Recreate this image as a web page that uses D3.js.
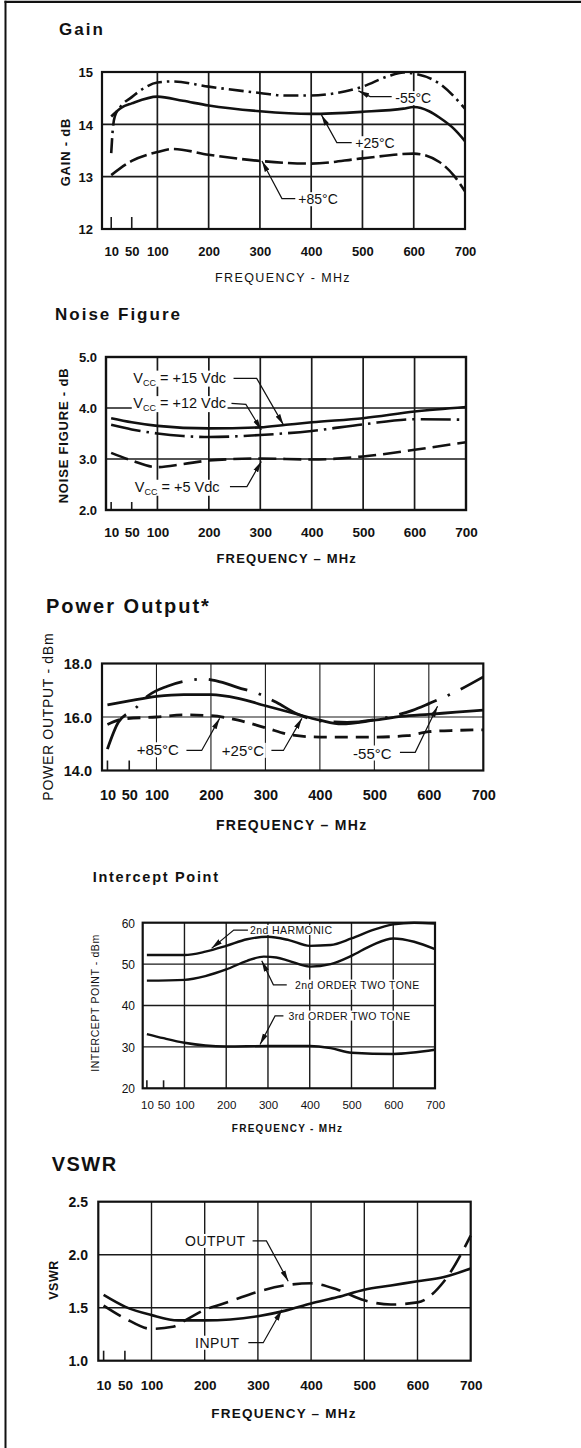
<!DOCTYPE html>
<html><head><meta charset="utf-8">
<script src="https://cdn.jsdelivr.net/npm/d3@7"></script>
<style>
html,body{margin:0;padding:0;background:#fff;}
svg{display:block;}
text{font-family:"Liberation Sans",Arial,Helvetica,sans-serif;fill:#111;}
</style></head><body>
<svg id="chart" width="581" height="1448"></svg>
<script>
// ---------- DATA ----------
const xTickValues = [10, 50, 100, 200, 300, 400, 500, 600, 700];
const xTickLabels = ["10", "50", "100", "200", "300", "400", "500", "600", "700"];
const xGridValues = [100, 200, 300, 400, 500, 600];
const xMinorTicks = [10, 50];

// Gain (dB)
const gainYTicks = [12, 13, 14, 15];
const gainMinus55 = [[10,13.45],[13,13.9],[17,14.15],[30,14.36],[50,14.52],[75,14.7],[100,14.8],[130,14.82],[200,14.72],[300,14.6],[350,14.55],[400,14.55],[450,14.6],[500,14.72],[550,14.92],[580,14.99],[600,14.97],[650,14.78],[700,14.3]];
const gainPlus25 = [[10,14.15],[30,14.32],[50,14.4],[100,14.53],[150,14.45],[200,14.36],[300,14.25],[400,14.2],[500,14.24],[580,14.3],[600,14.33],[630,14.25],[650,14.13],[680,13.9],[700,13.68]];
const gainPlus85 = [[10,13.03],[50,13.3],[100,13.47],[130,13.53],[200,13.42],[300,13.3],[400,13.25],[500,13.35],[600,13.44],[650,13.28],[680,13.0],[700,12.72]];

// Noise figure (dB)
const noiseYTicks = [2, 3, 4, 5];
const noiseVcc15 = [[10,3.8],[50,3.72],[100,3.65],[200,3.6],[300,3.62],[350,3.67],[400,3.72],[500,3.8],[600,3.93],[700,4.02]];
const noiseVcc12 = [[10,3.67],[50,3.58],[100,3.5],[150,3.45],[200,3.43],[300,3.47],[400,3.55],[500,3.68],[600,3.78],[700,3.77]];
const noiseVcc5 = [[10,3.12],[50,2.97],[100,2.84],[150,2.9],[200,2.97],[300,3.01],[400,2.99],[500,3.05],[600,3.18],[700,3.33]];

// Power output (dBm)
const powerYTicks = [14, 16, 18];
const powerPlus25 = [[10,16.45],[50,16.6],[100,16.77],[150,16.84],[200,16.84],[250,16.7],[300,16.42],[350,16.15],[400,15.88],[440,15.74],[500,15.88],[550,16.02],[600,16.1],[650,16.18],[700,16.26]];
const powerMinus55 = [[10,14.8],[30,15.8],[60,16.3],[85,16.8],[120,17.15],[160,17.37],[190,17.42],[210,17.35],[250,17.1],[290,16.85],[320,16.55],[360,16.1],[400,15.85],[450,15.8],[500,15.9],[570,16.25],[600,16.5],[650,16.95],[700,17.5]];
const powerPlus85 = [[10,15.72],[40,15.93],[100,16.0],[150,16.08],[200,16.05],[250,15.88],[300,15.6],[350,15.32],[400,15.25],[500,15.25],[560,15.3],[600,15.45],[650,15.5],[700,15.52]];

// Intercept point (dBm)
const interceptYTicks = [20, 30, 40, 50, 60];
const ip2ndHarmonic = [[10,52.2],[100,52.2],[150,53],[200,54.4],[250,56],[300,56.6],[350,55.8],[400,54.4],[450,54.6],[500,56.2],[550,58.2],[600,59.6],[650,60],[700,59.8]];
const ip2ndOrderTwoTone = [[10,46],[100,46.2],[150,47.1],[200,48.7],[250,50.8],[290,51.8],[320,51.6],[350,50.8],[400,49.4],[450,50],[500,52],[550,54.6],[600,56.2],[650,55.4],[700,53.6]];
const ip3rdOrderTwoTone = [[10,33.1],[50,32.1],[100,31],[200,30.1],[300,30.2],[400,30.2],[450,29.7],[500,28.6],[600,28.3],[700,29.3]];

// VSWR
const vswrYTicks = [1.0, 1.5, 2.0, 2.5];
const vswrInput = [[10,1.62],[50,1.51],[100,1.43],[150,1.38],[200,1.38],[300,1.42],[350,1.47],[400,1.54],[450,1.6],[500,1.67],[550,1.71],[600,1.75],[650,1.79],[700,1.87]];
const vswrOutput = [[10,1.52],[50,1.4],[100,1.3],[140,1.32],[170,1.4],[200,1.48],[230,1.53],[270,1.6],[300,1.65],[350,1.71],[400,1.73],[450,1.67],[500,1.57],[550,1.53],[600,1.55],[650,1.75],[700,2.18]];

// ---------- DRAWING ----------
const svg = d3.select("#chart");
const defs = svg.append("defs");
defs.append("marker").attr("id", "arrow")
  .attr("viewBox", "0 0 11 6").attr("refX", 11).attr("refY", 3)
  .attr("markerWidth", 11).attr("markerHeight", 6)
  .attr("markerUnits", "userSpaceOnUse").attr("orient", "auto")
  .append("path").attr("d", "M0,0.4 L11,3 L0,5.6 Z").attr("fill", "#111");

// outer border (top and left)
svg.append("line").attr("x1", 4.5).attr("x2", 581).attr("y1", 1.8).attr("y2", 1.8).attr("stroke", "#111").attr("stroke-width", 2.2);
svg.append("line").attr("x1", 5.5).attr("x2", 5.5).attr("y1", 0.7).attr("y2", 1448).attr("stroke", "#111").attr("stroke-width", 2);

function drawPanel(p) {
  const g = svg.append("g");
  const x = d3.scaleLinear().domain(p.xDomain).range([p.left, p.right]);
  const y = d3.scaleLinear().domain(p.yDomain).range([p.bottom, p.top]);

  const gridL = g.append("g"), bgL = g.append("g"), curveL = g.append("g"),
        frameL = g.append("g"), annL = g.append("g"), axisL = g.append("g");

  // title
  g.append("text").attr("x", p.title.x).attr("y", p.title.y).text(p.title.text)
    .style("font-size", p.title.size + "px").style("font-weight", "bold")
    .style("letter-spacing", p.title.ls + "px");

  // grid
  gridL.selectAll("line.v").data(xGridValues).join("line")
    .attr("x1", d => x(d)).attr("x2", d => x(d)).attr("y1", p.top).attr("y2", p.bottom)
    .attr("stroke", "#1a1a1a").attr("stroke-width", p.gridW);
  gridL.selectAll("line.h").data(p.hGrid).join("line")
    .attr("x1", p.left).attr("x2", p.right).attr("y1", d => y(d)).attr("y2", d => y(d))
    .attr("stroke", "#1a1a1a").attr("stroke-width", p.gridW);
  gridL.selectAll("line.m").data(xMinorTicks).join("line")
    .attr("x1", d => x(d)).attr("x2", d => x(d)).attr("y1", p.bottom).attr("y2", p.bottom - p.minorH)
    .attr("stroke", "#1a1a1a").attr("stroke-width", 1.6);

  // curves
  const line = d3.line().x(d => x(d[0])).y(d => y(d[1])).curve(d3.curveMonotoneX);
  p.series.forEach(s => {
    curveL.append("path").datum(s.data).attr("d", line)
      .attr("fill", "none").attr("stroke", "#111").attr("stroke-width", s.w || 2.6)
      .attr("stroke-dasharray", s.dash || null).attr("stroke-linecap", "butt")
      .attr("stroke-linejoin", "round");
  });

  // frame
  frameL.append("rect").attr("x", p.left).attr("y", p.top)
    .attr("width", p.right - p.left).attr("height", p.bottom - p.top)
    .attr("fill", "none").attr("stroke", "#111").attr("stroke-width", p.frameW);

  // annotations
  p.ann.forEach(a => {
    const t = annL.append("text").attr("x", x(a.at[0])).attr("y", y(a.at[1])).attr("dy", "0.36em")
      .style("font-size", p.annSize + "px").style("letter-spacing", (p.annLs || 0) + "px");
    a.parts.forEach(pt => {
      const ts = t.append("tspan").text(pt[0]);
      if (pt[1] === "sub") ts.style("font-size", (p.annSize * 0.62) + "px").attr("dy", 3);
      else if (pt[1] === "up") ts.attr("dy", -3);
    });
    const bb = t.node().getBBox();
    bgL.append("rect").attr("x", bb.x - 1.5).attr("y", bb.y + 1).attr("width", bb.width + 3).attr("height", bb.height - 2)
      .attr("fill", "#fff");
    annL.append("path").datum(a.path)
      .attr("d", d3.line().x(d => x(d[0])).y(d => y(d[1])))
      .attr("fill", "none").attr("stroke", "#111").attr("stroke-width", 1.2)
      .attr("marker-end", "url(#arrow)");
  });

  // x axis
  const xa = axisL.append("g").attr("transform", `translate(0,${p.bottom})`)
    .call(d3.axisBottom(x).tickValues(xTickValues).tickSize(0)
      .tickFormat((d, i) => xTickLabels[i]));
  xa.select(".domain").remove();
  xa.selectAll("text").attr("y", p.xLab.y - p.bottom).attr("dy", 0)
    .style("font-size", p.xLab.size + "px").style("font-weight", p.xLab.weight);

  // y axis
  const ya = axisL.append("g").attr("transform", `translate(${p.left},0)`)
    .call(d3.axisLeft(y).tickValues(p.yTicks).tickSize(0).tickPadding(p.left - p.yLab.right)
      .tickFormat(p.yFmt));
  ya.select(".domain").remove();
  ya.selectAll("text").attr("dy", "0.36em")
    .style("font-size", p.yLab.size + "px").style("font-weight", p.yLab.weight);

  // axis titles
  g.append("text").attr("x", p.xTitle.x).attr("y", p.xTitle.y).attr("text-anchor", "middle")
    .text(p.xTitle.text).style("font-size", p.xTitle.size + "px")
    .style("font-weight", p.xTitle.weight).style("letter-spacing", p.xTitle.ls + "px");
  g.append("text").attr("transform", `translate(${p.yTitle.x},${p.yTitle.y}) rotate(-90)`)
    .attr("text-anchor", "middle").attr("dy", "0.36em")
    .text(p.yTitle.text).style("font-size", p.yTitle.size + "px")
    .style("font-weight", p.yTitle.weight).style("letter-spacing", p.yTitle.ls + "px");
}

const f0 = d3.format("d"), f1 = d3.format(".1f");

drawPanel({
  left: 102, right: 465, top: 72, bottom: 229, xDomain: [-8, 700], yDomain: [12, 15],
  yTicks: gainYTicks, yFmt: f0, hGrid: [13, 14], gridW: 1.7, frameW: 2.2, minorH: 12,
  title: {text: "Gain", x: 59, y: 35, size: 17, ls: 2},
  xLab: {y: 256, size: 13, weight: "bold"}, yLab: {right: 93, size: 13, weight: "bold"},
  xTitle: {text: "FREQUENCY - MHz", x: 283, y: 281.5, size: 12.5, weight: "normal", ls: 1.4},
  yTitle: {text: "GAIN - dB", x: 65, y: 152, size: 13, weight: "bold", ls: 0.8},
  series: [
    {data: gainMinus55, dash: "15,5,2.5,5"},
    {data: gainPlus25},
    {data: gainPlus85, dash: "18,5"}
  ],
  annSize: 14, annLs: 0,
  ann: [
    {parts: [["-55°C"]], at: [564, 14.5], path: [[557, 14.53], [515, 14.53], [492, 14.64]]},
    {parts: [["+25°C"]], at: [486, 13.64], path: [[479, 13.65], [450, 13.65], [420, 14.18]]},
    {parts: [["+85°C"]], at: [375, 12.57], path: [[369, 12.58], [343, 12.58], [304, 13.3]]}
  ]
});

drawPanel({
  left: 106, right: 466, top: 357, bottom: 510, xDomain: [0, 700], yDomain: [2, 5],
  yTicks: noiseYTicks, yFmt: f1, hGrid: [3, 4], gridW: 1.7, frameW: 2.4, minorH: 8,
  title: {text: "Noise Figure", x: 55, y: 319.5, size: 17, ls: 2},
  xLab: {y: 536.5, size: 13.5, weight: "bold"}, yLab: {right: 97, size: 13, weight: "bold"},
  xTitle: {text: "FREQUENCY – MHz", x: 286.7, y: 563, size: 13, weight: "bold", ls: 1.2},
  yTitle: {text: "NOISE FIGURE - dB", x: 63.3, y: 435.5, size: 13, weight: "bold", ls: 0.8},
  series: [
    {data: noiseVcc15},
    {data: noiseVcc12, dash: "30,6,2.5,6"},
    {data: noiseVcc5, dash: "18,7"}
  ],
  annSize: 14.5, annLs: 0,
  ann: [
    {parts: [["V"], ["CC", "sub"], [" = +15 Vdc", "up"]], at: [53, 4.6], path: [[248, 4.58], [293, 4.58], [345, 3.67]]},
    {parts: [["V"], ["CC", "sub"], [" = +12 Vdc", "up"]], at: [53, 4.1], path: [[244, 4.09], [272, 4.07], [302, 3.57]]},
    {parts: [["V"], ["CC", "sub"], [" = +5 Vdc", "up"]], at: [56, 2.46], path: [[241, 2.46], [274, 2.46], [302, 2.95]]}
  ]
});

drawPanel({
  left: 102, right: 483.3, top: 663.5, bottom: 770.5, xDomain: [0, 700], yDomain: [14, 18],
  yTicks: powerYTicks, yFmt: f1, hGrid: [16], gridW: 1.1, frameW: 2.2, minorH: 10,
  title: {text: "Power Output*", x: 46, y: 612.5, size: 20, ls: 2},
  xLab: {y: 800, size: 14.5, weight: "bold"}, yLab: {right: 92, size: 14.5, weight: "bold"},
  xTitle: {text: "FREQUENCY – MHz", x: 291.7, y: 830, size: 14, weight: "bold", ls: 1.3},
  yTitle: {text: "POWER OUTPUT - dBm", x: 48.3, y: 716.7, size: 14, weight: "normal", ls: 0.7},
  series: [
    {data: powerPlus25, w: 2.8},
    {data: powerMinus55, dash: "40,12,2.5,12", w: 2.8},
    {data: powerPlus85, dash: "13,8", w: 2.8}
  ],
  annSize: 15, annLs: 0,
  ann: [
    {parts: [["+85°C"]], at: [63.6, 14.77], path: [[155, 14.75], [183, 14.75], [216, 15.95]]},
    {parts: [["+25°C"]], at: [220, 14.75], path: [[311, 14.75], [333, 14.75], [367, 15.95]]},
    {parts: [["-55°C"]], at: [461, 14.65], path: [[547, 14.68], [575, 14.68], [616, 16.4]]}
  ]
});

drawPanel({
  left: 142.7, right: 435, top: 922.7, bottom: 1088.3, xDomain: [0, 700], yDomain: [20, 60],
  yTicks: interceptYTicks, yFmt: f0, hGrid: [30, 40, 50], gridW: 1.4, frameW: 2.2, minorH: 8,
  title: {text: "Intercept Point", x: 92.7, y: 882, size: 14.5, ls: 1.7},
  xLab: {y: 1109, size: 11.5, weight: "normal"}, yLab: {right: 135, size: 12, weight: "normal"},
  xTitle: {text: "FREQUENCY - MHz", x: 287.5, y: 1131.5, size: 10, weight: "bold", ls: 1.3},
  yTitle: {text: "INTERCEPT POINT - dBm", x: 95.5, y: 1003, size: 10.5, weight: "normal", ls: 0.6},
  series: [
    {data: ip2ndHarmonic, w: 2.4},
    {data: ip2ndOrderTwoTone, w: 2.4},
    {data: ip3rdOrderTwoTone, w: 2.4}
  ],
  annSize: 10.5, annLs: 0.4,
  ann: [
    {parts: [["2nd HARMONIC"]], at: [257, 58.2], path: [[252, 58.2], [218, 58.2], [165, 53.8]]},
    {parts: [["2nd ORDER TWO TONE"]], at: [365, 45], path: [[345, 45], [313, 45], [285, 50.8]]},
    {parts: [["3rd ORDER TWO TONE"]], at: [349, 37.5], path: [[337, 37.5], [317, 37.5], [281, 30.6]]}
  ]
});

drawPanel({
  left: 98.3, right: 470.7, top: 1201.7, bottom: 1360.7, xDomain: [0, 700], yDomain: [1, 2.5],
  yTicks: vswrYTicks, yFmt: f1, hGrid: [1.5, 2], gridW: 1.4, frameW: 2.2, minorH: 10,
  title: {text: "VSWR", x: 51.7, y: 1170.7, size: 20, ls: 1.5},
  xLab: {y: 1390, size: 13.5, weight: "bold"}, yLab: {right: 88, size: 14, weight: "bold"},
  xTitle: {text: "FREQUENCY – MHz", x: 284, y: 1418, size: 13.5, weight: "bold", ls: 1.2},
  yTitle: {text: "VSWR", x: 53.3, y: 1280, size: 12.5, weight: "bold", ls: 0.5},
  series: [
    {data: vswrInput, w: 2.6},
    {data: vswrOutput, dash: "20,9", w: 2.6}
  ],
  annSize: 14, annLs: 0.5,
  ann: [
    {parts: [["OUTPUT"]], at: [163, 2.13], path: [[290, 2.13], [316, 2.13], [357, 1.75]]},
    {parts: [["INPUT"]], at: [182, 1.17], path: [[282, 1.17], [310, 1.17], [345, 1.48]]}
  ]
});
</script>
</body></html>
